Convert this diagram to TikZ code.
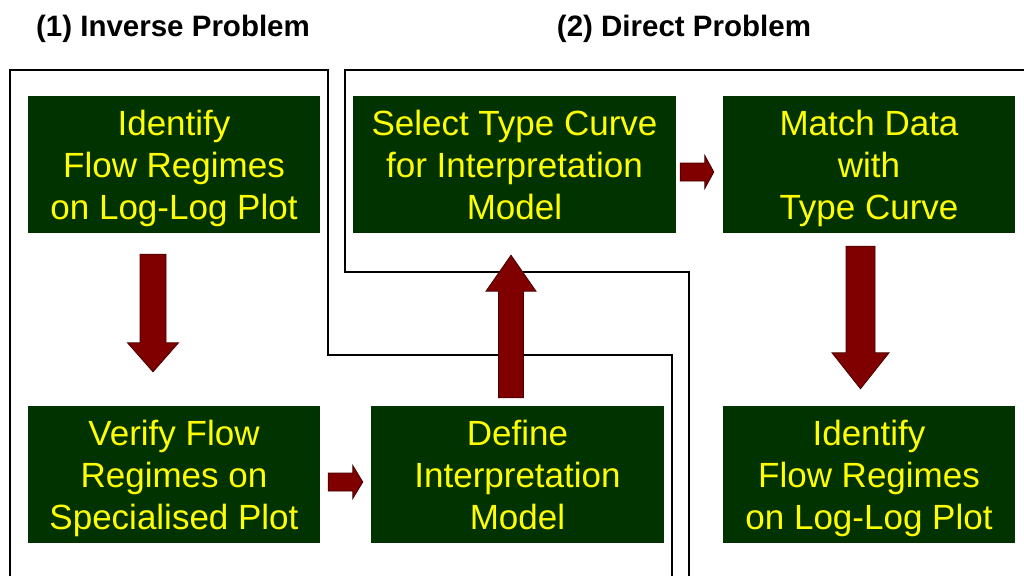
\documentclass[tikz,border=0pt]{standalone}
\usepackage{fontspec}
\setmainfont{Liberation Sans}
\usetikzlibrary{calc}

\definecolor{boxgreen}{RGB}{0,51,0}
\definecolor{boxtext}{RGB}{255,255,0}
\definecolor{arrowred}{RGB}{128,0,0}
\definecolor{arrowedge}{RGB}{70,0,0}

% struts that fix the height of the first line and the depth of the last one,
% so that every box sets its three lines at the same heights
\newcommand\firstline{\rule{0pt}{33pt}}
\newcommand\lastline{\rule[-8pt]{0pt}{8pt}}

\tikzset{
  stepbox/.style={rectangle, fill=boxgreen, text=boxtext, inner sep=0pt,
    minimum height=137pt, align=center,
    font=\fontsize{35}{42}\selectfont},
  heading/.style={font=\bfseries\fontsize{29.5}{35}\selectfont, text=black, anchor=base},
  regionline/.style={draw=black, line width=2.6pt, line join=miter},
  % geometry of the block arrows
  ba gap a/.store in=\baGapA, ba gap b/.store in=\baGapB,
  ba shaft/.store in=\baShaft, ba head/.store in=\baHead, ba len/.store in=\baLen,
  ba gap a=0pt, ba gap b=0pt, ba shaft=12pt, ba head=25pt, ba len=30pt,
  blockarrow/.style={fill=arrowred, draw=arrowedge, line width=0.8pt, line join=miter,
    to path={
      let \p1=(\tikztostart), \p2=(\tikztotarget),
          \n1={atan2(\y2-\y1,\x2-\x1)} in
      ($(\p1)+(\n1:\baGapA)+(\n1+90:\baShaft)$)
      -- ($(\p2)+(\n1+180:\baGapB+\baLen)+(\n1+90:\baShaft)$)
      -- ($(\p2)+(\n1+180:\baGapB+\baLen)+(\n1+90:\baHead)$)
      -- ($(\p2)+(\n1+180:\baGapB)$)
      -- ($(\p2)+(\n1+180:\baGapB+\baLen)+(\n1-90:\baHead)$)
      -- ($(\p2)+(\n1+180:\baGapB+\baLen)+(\n1-90:\baShaft)$)
      -- ($(\p1)+(\n1:\baGapA)+(\n1-90:\baShaft)$)
      -- cycle}},
}

\begin{document}
\begin{tikzpicture}[x=1pt,y=-1pt]
\useasboundingbox (0,0) rectangle (1024,576);

% headings
\node[heading] (t1) at (173,36) {(1) Inverse Problem};
\node[heading] (t2) at (684,36) {(2) Direct Problem};

% region outlines
\draw[regionline] (10,576) -- (10,70) -- (328,70) -- (328,355) -- (672,355) -- (672,576);
\draw[regionline] (1024,70) -- (345,70) -- (345,272) -- (689,272) -- (689,576);

% steps
\node[stepbox, minimum width=292pt] (A) at (174,164.5)
  {\firstline Identify\\Flow Regimes\\on Log-Log Plot\lastline};
\node[stepbox, minimum width=323pt] (B) at (514.5,164.5)
  {\firstline Select Type Curve\\for Interpretation\\Model\lastline};
\node[stepbox, minimum width=292pt] (C) at (869,164.5)
  {\firstline Match Data\\with\\Type Curve\lastline};
\node[stepbox, minimum width=292pt] (D) at (174,474.5)
  {\firstline Verify Flow\\Regimes on\\Specialised Plot\lastline};
\node[stepbox, minimum width=293pt] (E) at (517.5,474.5)
  {\firstline Define\\Interpretation\\Model\lastline};
\node[stepbox, minimum width=292pt] (F) at (869,474.5)
  {\firstline Identify\\Flow Regimes\\on Log-Log Plot\lastline};

% block arrows between the steps
\draw[blockarrow, ba gap a=21pt, ba gap b=34pt, ba shaft=13pt, ba head=25.5pt, ba len=29pt]
  ([xshift=-21pt]A.south) to ([xshift=-21pt]D.north);
\draw[blockarrow, ba gap a=8pt, ba gap b=8pt, ba shaft=9pt, ba head=16.5pt, ba len=10pt]
  ([yshift=-7.5pt]D.east) to ([yshift=-7.5pt]E.west);
\draw[blockarrow, ba gap a=8pt, ba gap b=22pt, ba shaft=12.5pt, ba head=25pt, ba len=36pt]
  ([xshift=-6.5pt]E.north) to ([xshift=-3.5pt]B.south);
\draw[blockarrow, ba gap a=4pt, ba gap b=9pt, ba shaft=9pt, ba head=16.5pt, ba len=9pt]
  ([yshift=-7.5pt]B.east) to ([yshift=-7.5pt]C.west);
\draw[blockarrow, ba gap a=13pt, ba gap b=17pt, ba shaft=14.5pt, ba head=28.5pt, ba len=36pt]
  ([xshift=-8.5pt]C.south) to ([xshift=-8.5pt]F.north);
\end{tikzpicture}
\end{document}
